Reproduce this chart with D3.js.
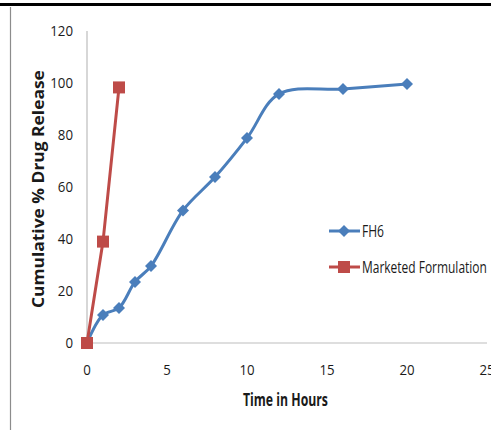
<!DOCTYPE html>
<html><head><meta charset="utf-8">
<script src="https://cdn.jsdelivr.net/npm/d3@7"></script>
<style>body{margin:0;background:#fff}svg{display:block}</style>
</head><body>
<svg id="c" width="491" height="430"></svg>
<script>
const fh6Time = [0,1,2,3,4,6,8,10,12,16,20];
const fh6Release = [0,10.8,13.5,23.5,29.6,51,63.8,78.8,95.8,97.7,99.6];
const mktTime = [0,1,2];
const mktRelease = [0,39,98.3];
const xTicks = [0,5,10,15,20,25];
const yTicks = [0,20,40,60,80,100,120];
const seriesNames = ["FH6","Marketed Formulation"];
const colors = ["#4A7EBB","#BE4B48"];

const svg = d3.select("#c");
const font = "'Open Sans',sans-serif";
// frame
svg.append("rect").attr("x",0).attr("y",3).attr("width",491).attr("height",3).attr("fill","#000");
svg.append("line").attr("x1",10.5).attr("x2",10.5).attr("y1",7).attr("y2",430).attr("stroke","#8c8c8c").attr("stroke-width",1.2);

const x = d3.scaleLinear().domain([0,25]).range([87,487]);
const y = d3.scaleLinear().domain([0,120]).range([343,31]);

// axes
svg.append("line").attr("x1",x(0)).attr("x2",x(25)).attr("y1",y(0)).attr("y2",y(0)).attr("stroke","#bdbdbd").attr("stroke-width",1.2);
svg.append("line").attr("x1",x(0)).attr("x2",x(0)).attr("y1",y(0)).attr("y2",y(120)).attr("stroke","#bdbdbd").attr("stroke-width",1.2);

// squeezed text helper: places text whose width is scaled to target
function sq(g, txt, tx, ty, size, weight, target, anchor, rot){
  const t = g.append("text").attr("dy","0.36em").attr("font-family",font)
    .attr("font-size",size).attr("font-weight",weight).attr("fill","#1a1a1a").text(txt);
  const w = t.node().getComputedTextLength();
  const s = target / w;
  const off = anchor==="end" ? -w : anchor==="middle" ? -w/2 : 0;
  t.attr("x",off).attr("transform",`translate(${tx},${ty}) rotate(${rot||0}) scale(${s},1)`);
  return t;
}

yTicks.forEach(d=>sq(svg,String(d),73,y(d),14.5,"normal",String(d).length*7.6,"end"));
xTicks.forEach(d=>sq(svg,String(d),x(d),370,14.5,"normal",String(d).length*7.6,"middle"));

sq(svg,"Time in Hours",243,400,17,"bold",85,"start");
sq(svg,"Cumulative % Drug Release",38,308,16,"bold",238,"start",-90);

const fh6 = fh6Time.map((t,i)=>[t,fh6Release[i]]);
const mkt = mktTime.map((t,i)=>[t,mktRelease[i]]);

svg.append("path").datum(fh6).attr("fill","none").attr("stroke",colors[0]).attr("stroke-width",3)
  .attr("d",d3.line().x(d=>x(d[0])).y(d=>y(d[1])).curve(d3.curveCatmullRom.alpha(0.5)));
svg.append("path").datum(mkt).attr("fill","none").attr("stroke",colors[1]).attr("stroke-width",3)
  .attr("d",d3.line().x(d=>x(d[0])).y(d=>y(d[1])));

const diamond = (cx,cy,r)=>`M${cx},${cy-r}L${cx+r},${cy}L${cx},${cy+r}L${cx-r},${cy}Z`;
svg.selectAll(".fm").data(fh6).enter().append("path")
  .attr("d",d=>diamond(x(d[0]),y(d[1]),6)).attr("fill",colors[0]);
svg.selectAll(".mm").data(mkt).enter().append("rect")
  .attr("x",d=>x(d[0])-6).attr("y",d=>y(d[1])-6).attr("width",12).attr("height",12).attr("fill",colors[1]);

// legend
const ly = [231,267];
const lw = [22,125];
seriesNames.forEach((n,i)=>{
  svg.append("line").attr("x1",329).attr("x2",360).attr("y1",ly[i]).attr("y2",ly[i]).attr("stroke",colors[i]).attr("stroke-width",3);
  if(i===0) svg.append("path").attr("d",diamond(344,ly[i],6)).attr("fill",colors[0]);
  else svg.append("rect").attr("x",338).attr("y",ly[i]-6).attr("width",12).attr("height",12).attr("fill",colors[1]);
  sq(svg,n,362,ly[i],17,"normal",lw[i],"start");
});
</script>
</body></html>
